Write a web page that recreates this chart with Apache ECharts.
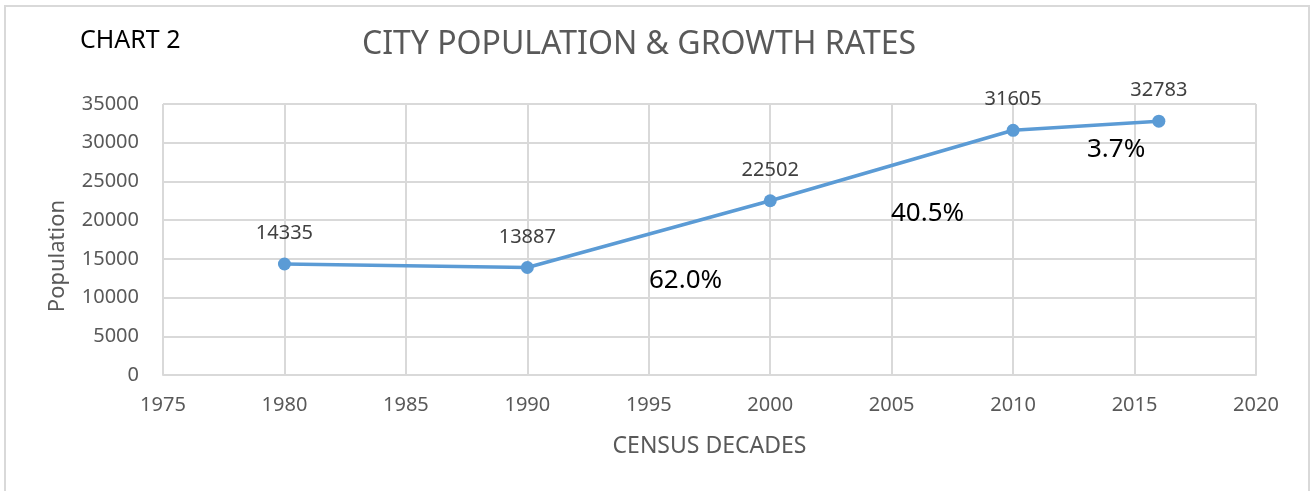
<!DOCTYPE html>
<html>
<head>
<meta charset="utf-8">
<script src="https://cdn.jsdelivr.net/npm/echarts@6/dist/echarts.min.js"></script>
<style>
  html, body { margin: 0; padding: 0; background: #fff; }
  #chart { width: 1312px; height: 491px; }
</style>
</head>
<body>
<div id="chart"></div>
<script>
const years = [1980, 1990, 2000, 2010, 2016];
const population = [14335, 13887, 22502, 31605, 32783];
const growthLabels = ["62.0%", "40.5%", "3.7%"];

const font = "Noto Sans";
const chart = echarts.init(document.getElementById("chart"));

function plain(v) {
  return String(v);
}

chart.setOption({
  backgroundColor: "#fff",
  animation: false,
  textStyle: { fontFamily: font },
  title: {
    text: "CITY POPULATION & GROWTH RATES",
    left: 634,
    textAlign: "center",
    top: 24,
    textStyle: { fontFamily: font, fontSize: 32, fontWeight: "normal", color: "#595959" },
  },
  grid: { left: 163, right: 56, top: 104, bottom: 116 },
  xAxis: {
    type: "value",
    min: 1975,
    max: 2020,
    interval: 5,
    name: "CENSUS DECADES",
    nameLocation: "middle",
    nameGap: 60,
    nameTextStyle: { fontFamily: font, fontSize: 23, color: "#595959" },
    axisLine: { lineStyle: { color: "#d9d9d9", width: 2 } },
    axisTick: { show: false },
    axisLabel: { margin: 20, fontFamily: font, fontSize: 20, color: "#595959", formatter: plain },
    splitLine: { show: true, lineStyle: { color: "#d9d9d9", width: 2 } },
  },
  yAxis: {
    type: "value",
    min: 0,
    max: 35000,
    interval: 5000,
    axisLine: { show: false },
    axisTick: { show: false },
    axisLabel: { margin: 24, fontFamily: font, fontSize: 20, color: "#595959", formatter: plain },
    splitLine: { lineStyle: { color: "#d9d9d9", width: 2 } },
  },
  series: [
    {
      type: "line",
      data: years.map(function (y, i) {
        return [y, population[i]];
      }),
      symbol: "circle",
      symbolSize: 13,
      lineStyle: { color: "#5b9bd5", width: 3.5 },
      itemStyle: { color: "#5b9bd5" },
      label: {
        show: true,
        position: "top",
        distance: 14,
        fontFamily: font,
        fontSize: 20,
        color: "#404040",
        formatter: function (p) {
          return p.value[1];
        },
      },
    },
  ],
  graphic: {
    elements: [
      {
        type: "rect",
        shape: { x: 5, y: 6, width: 1304, height: 500 },
        style: { fill: "none", stroke: "#d9d9d9", lineWidth: 2 },
        silent: true,
      },
      {
        type: "text",
        left: 80,
        top: 28,
        style: { text: "CHART 2", fontFamily: font, fontSize: 25, fill: "#000" },
      },
      {
        // y axis title, sits a bit below the plot centre like the original
        type: "text",
        x: 58,
        y: 256,
        rotation: Math.PI / 2,
        style: {
          text: "Population",
          fontFamily: font,
          fontSize: 22,
          fill: "#595959",
          align: "center",
          verticalAlign: "middle",
        },
      },
      {
        type: "text",
        left: 649,
        top: 268,
        z: 100,
        style: { text: growthLabels[0], fontFamily: font, fontSize: 26, fill: "#000" },
      },
      {
        type: "text",
        left: 891,
        top: 201,
        z: 100,
        style: { text: growthLabels[1], fontFamily: font, fontSize: 26, fill: "#000" },
      },
      {
        type: "text",
        left: 1087,
        top: 137,
        z: 100,
        style: { text: growthLabels[2], fontFamily: font, fontSize: 26, fill: "#000" },
      },
    ],
  },
});
</script>
</body>
</html>
